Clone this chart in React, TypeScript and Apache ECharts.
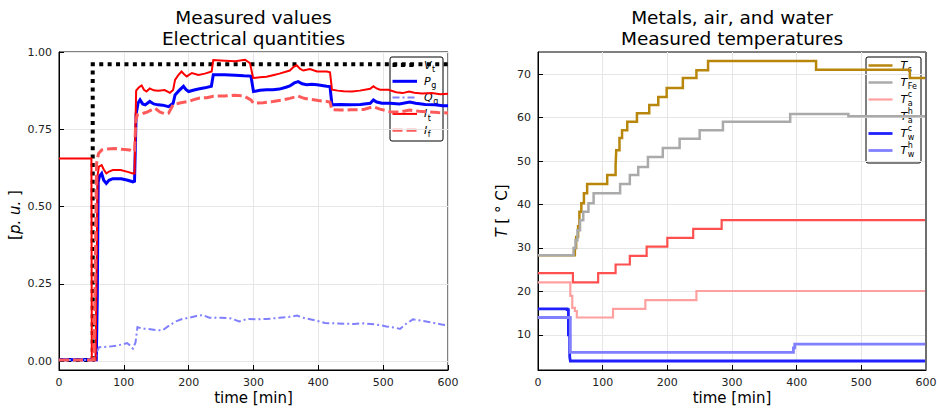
import { useEffect, useRef } from "react";
import * as echarts from "echarts";

const FONT = "'DejaVu Sans', 'Liberation Sans', sans-serif";

// ---------- Electrical quantities, [time in min, value in p.u.] ----------
const vtData: number[][] = [[0, 0.003], [52, 0.003], [52, 0.96], [600, 0.96]];

const pgData: number[][] = [
  [0, 0.004], [57.5, 0.004], [59, 0.2], [60.5, 0.58], [62.5, 0.598], [65.8, 0.607], [69, 0.585],
  [73, 0.575], [77, 0.585], [83, 0.59], [96, 0.59], [106, 0.585], [114, 0.58], [116.5, 0.582],
  [119, 0.8], [122, 0.835], [125, 0.845], [129, 0.832], [133, 0.829], [140, 0.84], [146, 0.832],
  [153, 0.829], [160, 0.828], [169, 0.823], [176, 0.834], [179, 0.861], [185, 0.875], [192, 0.889],
  [196, 0.878], [200, 0.872], [207, 0.876], [215, 0.88], [225, 0.884], [235, 0.889], [238, 0.926],
  [255, 0.926], [272, 0.925], [285, 0.923], [296, 0.922], [300, 0.872], [310, 0.876], [320, 0.878],
  [330, 0.878], [340, 0.88], [350, 0.886], [356, 0.89], [363, 0.9], [369, 0.904], [375, 0.897],
  [382, 0.894], [390, 0.896], [398, 0.894], [413, 0.889], [418, 0.888], [421, 0.829], [435, 0.83],
  [449, 0.829], [465, 0.83], [480, 0.834], [485, 0.845], [490, 0.838], [498, 0.834], [511, 0.834],
  [525, 0.832], [541, 0.838], [550, 0.834], [565, 0.83], [580, 0.829], [592, 0.826], [600, 0.826],
];

const qgData: number[][] = [
  [0, 0.003], [56, 0.003], [58.5, 0.03], [62, 0.045], [75, 0.046], [90, 0.05], [105, 0.058],
  [110, 0.05], [114, 0.04], [118, 0.06], [121, 0.11], [128, 0.105], [138, 0.104], [150, 0.1],
  [160, 0.1], [170, 0.115], [180, 0.128], [190, 0.136], [200, 0.14], [212, 0.146], [222, 0.149],
  [232, 0.14], [250, 0.14], [265, 0.138], [278, 0.128], [290, 0.136], [305, 0.135], [320, 0.136],
  [340, 0.14], [355, 0.143], [367, 0.147], [380, 0.138], [395, 0.132], [410, 0.123], [425, 0.122],
  [440, 0.121], [455, 0.12], [470, 0.122], [490, 0.118], [505, 0.112], [518, 0.108], [526, 0.104],
  [535, 0.12], [546, 0.135], [560, 0.13], [575, 0.125], [590, 0.118], [600, 0.116],
];

const itData: number[][] = [
  [0, 0.655], [50, 0.655], [50.6, 0.004], [56.5, 0.004], [59.5, 0.6], [61.5, 0.629], [65.8, 0.634],
  [69, 0.62], [73, 0.607], [78, 0.614], [83, 0.618], [95, 0.618], [106, 0.612], [114, 0.607],
  [116.5, 0.607], [119, 0.875], [123, 0.885], [127.5, 0.892], [131, 0.878], [135, 0.872], [140, 0.882],
  [146, 0.876], [153, 0.875], [163, 0.877], [171, 0.868], [176, 0.877], [179, 0.91], [184, 0.925],
  [189, 0.937], [193, 0.928], [197, 0.921], [205, 0.932], [215, 0.926], [225, 0.93], [235.5, 0.937],
  [238, 0.974], [256, 0.972], [272, 0.97], [287, 0.975], [294.5, 0.964], [299.5, 0.916], [310, 0.918],
  [320, 0.92], [330, 0.925], [340, 0.93], [356, 0.94], [362, 0.952], [366.6, 0.957], [372, 0.945],
  [377, 0.94], [387, 0.945], [398, 0.937], [413, 0.937], [418, 0.934], [421, 0.878], [430, 0.875],
  [439, 0.873], [452, 0.872], [464, 0.875], [480, 0.881], [485, 0.889], [490, 0.882], [495, 0.878],
  [508, 0.878], [520, 0.87], [530, 0.867], [540, 0.872], [548, 0.868], [560, 0.866], [575, 0.867],
  [588, 0.863], [600, 0.865],
];

const ifData: number[][] = [
  [0, 0.003], [54, 0.003], [56, 0.3], [58, 0.64], [61, 0.672], [66, 0.683], [75, 0.686], [86, 0.688],
  [98, 0.685], [109, 0.683], [114, 0.677], [116.5, 0.68], [118.5, 0.78], [121, 0.797], [127, 0.8],
  [135, 0.805], [142, 0.812], [148, 0.818], [156, 0.805], [164, 0.8], [169, 0.802], [176, 0.829],
  [186, 0.835], [200, 0.84], [208, 0.846], [217, 0.851], [228, 0.852], [238, 0.857], [255, 0.858],
  [270, 0.86], [285, 0.858], [296, 0.845], [300, 0.834], [315, 0.836], [330, 0.84], [345, 0.845],
  [356, 0.85], [369, 0.857], [378, 0.85], [387, 0.847], [400, 0.843], [413, 0.84], [418, 0.838],
  [421, 0.813], [435, 0.812], [450, 0.813], [470, 0.814], [485, 0.823], [495, 0.815], [511, 0.807],
  [525, 0.806], [541, 0.812], [555, 0.808], [570, 0.806], [585, 0.804], [600, 0.803],
];

// ---------- Temperatures, [time in min, °C], held until the next reading ----------
const tsData: number[][] = [
  [0, 28.3], [57, 30], [59, 32.5], [62, 35], [64, 38.3], [67, 40.3], [71, 42.6], [76, 44.7],
  [107, 46.8], [120, 49], [121, 52.5], [126, 55.3], [130, 57.1], [138, 59.0], [153, 61.0],
  [172, 62.9], [186, 64.7], [199, 66.8], [224, 69.1], [245, 70.9], [263, 73.0], [430, 71.0],
  [575, 69.1], [600, 69.1],
];
const tfeData: number[][] = [
  [0, 28.3], [55, 30], [58, 31.8], [61, 34.1], [65, 36.4], [70, 38.3], [78, 40.3], [86, 42.6],
  [127, 44.7], [142, 46.8], [155, 48.6], [170, 50.9], [193, 53.0], [219, 55.1], [250, 57.1],
  [286, 59.0], [390, 60.8], [480, 60.3], [600, 60.3],
];
const tacData: number[][] = [
  [0, 22.1], [48, 22.1], [50, 19], [53, 16.2], [57, 15.5], [60, 14.0], [116, 16.0], [166, 18.0],
  [245, 20.1], [600, 20.1],
];
const tahData: number[][] = [
  [0, 24.2], [54, 22.1], [93, 24.2], [120, 26.2], [142, 28.2], [168, 30.3], [200, 32.3],
  [240, 34.4], [284, 36.4], [600, 36.4],
];
const twcData: number[][] = [[0, 16.0], [45, 15.8], [47, 10], [49, 5], [50, 4.0], [600, 4.0]];
const twhData: number[][] = [[0, 14.0], [46, 14.0], [50, 6.0], [393, 6.0], [395, 7], [397, 7.9], [600, 7.9]];

// ---------- Axis ticks ----------
const timeTicks = [0, 100, 200, 300, 400, 500, 600];
const puTicks = [0, 0.25, 0.5, 0.75, 1.0];
const tempTicks = [10, 20, 30, 40, 50, 60, 70];

type LineDef = {
  main: string;
  sub: string;
  sup?: string;
  data: number[][];
  color: string;
  width: number;
  dash?: number[];
  step?: boolean;
};

const electrical: LineDef[] = [
  { main: "V", sub: "t", data: vtData, color: "#000000", width: 4, dash: [4, 4.4] },
  { main: "P", sub: "g", data: pgData, color: "#0000ff", width: 3 },
  { main: "Q", sub: "g", data: qgData, color: "#8080ff", width: 2, dash: [7, 3, 2, 3] },
  { main: "I", sub: "t", data: itData, color: "#ff0000", width: 2 },
  { main: "I", sub: "f", data: ifData, color: "#ff5a5a", width: 3, dash: [10, 4] },
];

const thermal: LineDef[] = [
  { main: "T", sub: "s", data: tsData, color: "#b8860b", width: 2.5, step: true },
  { main: "T", sub: "Fe", data: tfeData, color: "#aaaaaa", width: 2.5, step: true },
  { main: "T", sub: "a", sup: "c", data: tacData, color: "#ffa0a0", width: 2.2, step: true },
  { main: "T", sub: "a", sup: "h", data: tahData, color: "#ff5050", width: 2.2, step: true },
  { main: "T", sub: "w", sup: "c", data: twcData, color: "#2020ff", width: 2.8, step: true },
  { main: "T", sub: "w", sup: "h", data: twhData, color: "#8080ff", width: 2.8, step: true },
];

function textWidth(text: string, font: string): number {
  const ctx = document.createElement("canvas").getContext("2d");
  if (!ctx) return text.length * 6;
  ctx.font = font;
  return ctx.measureText(text).width;
}

function legend(
  defs: LineDef[],
  box: { x: number; y: number; w: number; h: number },
  firstRow: number,
  rowGap: number,
  lineX1: number,
  lineX2: number,
  labelX: number,
  size: number
) {
  const els: any[] = [
    {
      type: "rect",
      shape: { x: box.x, y: box.y, width: box.w, height: box.h, r: 2 },
      style: { fill: "#ffffff", stroke: "#000000", lineWidth: 1 },
    },
  ];
  const mainFont = `italic ${size}px ${FONT}`;
  const small = Math.round(size * 0.72);
  defs.forEach((d, i) => {
    const y = firstRow + i * rowGap;
    els.push({
      type: "line",
      shape: { x1: lineX1, y1: y, x2: lineX2, y2: y },
      style: { stroke: d.color, lineWidth: d.width, lineDash: d.dash || null, lineCap: "butt" },
    });
    els.push({
      type: "text",
      x: labelX,
      y,
      style: { text: d.main, font: mainFont, fill: "#000", align: "left", verticalAlign: "middle" },
    });
    const sx = labelX + textWidth(d.main, mainFont) + 0.5;
    els.push({
      type: "text",
      x: sx,
      y: y + size * 0.38,
      style: { text: d.sub, font: `${small}px ${FONT}`, fill: "#000", align: "left", verticalAlign: "middle" },
    });
    if (d.sup) {
      els.push({
        type: "text",
        x: sx,
        y: y - size * 0.42,
        style: { text: d.sup, font: `${small}px ${FONT}`, fill: "#000", align: "left", verticalAlign: "middle" },
      });
    }
  });
  return els;
}

function title(x: number, text: string) {
  return {
    type: "text",
    x,
    y: 7,
    style: {
      text,
      font: `18.5px ${FONT}`,
      lineHeight: 21,
      fill: "#000",
      align: "center",
      verticalAlign: "top",
    },
  };
}

function axisName(x: number, y: number, text: string, rotate: boolean) {
  return {
    type: "text",
    x,
    y,
    rotation: rotate ? Math.PI / 2 : 0,
    style: {
      text,
      font: `15px ${FONT}`,
      fill: "#000",
      align: "center",
      verticalAlign: "middle",
      rich: { i: { fontStyle: "italic", fontSize: 15, fontFamily: FONT } },
    },
  };
}

const axisLine = { show: true, onZero: false, lineStyle: { color: "#000", width: 1 } };
const tick = { show: true, inside: true, length: 5, lineStyle: { color: "#000", width: 1 } };
const label = { color: "#222", fontSize: 11, fontFamily: FONT, margin: 7 };
const split = { show: true, lineStyle: { color: "#e6e6e6", width: 1 } };

function xAxis(gridIndex: number) {
  return {
    type: "value",
    gridIndex,
    min: timeTicks[0],
    max: timeTicks[timeTicks.length - 1],
    interval: timeTicks[1] - timeTicks[0],
    axisLine,
    axisTick: tick,
    axisLabel: label,
    splitLine: split,
  };
}

function yAxis(gridIndex: number, min: number, max: number, ticks: number[], fmt: (v: number) => string) {
  return {
    type: "value",
    gridIndex,
    min,
    max,
    axisLine,
    axisTick: { ...tick, customValues: ticks },
    axisLabel: { ...label, customValues: ticks, formatter: fmt },
    splitLine: split,
  };
}

function series(defs: LineDef[], axis: number) {
  return defs.map((d, i) => ({
    type: "line",
    name: d.main + d.sub + (d.sup || ""),
    xAxisIndex: axis,
    yAxisIndex: axis,
    data: d.data,
    step: d.step ? "end" : false,
    showSymbol: false,
    symbol: "none",
    silent: true,
    z: 2 + i * 0.01,
    lineStyle: { color: d.color, width: d.width, type: d.dash || "solid", cap: "butt", join: "miter" },
  }));
}

function buildOption() {
  return {
    animation: false,
    backgroundColor: "#ffffff",
    grid: [
      { left: 59, top: 52, width: 389, height: 318, show: true, borderColor: "#000", borderWidth: 1, backgroundColor: "#fff", outerBoundsMode: "none" },
      { left: 538, top: 52, width: 388, height: 318, show: true, borderColor: "#000", borderWidth: 1, backgroundColor: "#fff", outerBoundsMode: "none" },
    ],
    xAxis: [xAxis(0), xAxis(1)],
    yAxis: [
      yAxis(0, -0.029, 1.0, puTicks, (v: number) => v.toFixed(2)),
      yAxis(1, 1.93, 75.07, tempTicks, (v: number) => String(v)),
    ],
    series: [...series(electrical, 0), ...series(thermal, 1)],
    graphic: [
      title(253.5, "Measured values\nElectrical quantities"),
      title(732, "Metals, air, and water\nMeasured temperatures"),
      axisName(253.5, 398, "time [min]", false),
      axisName(732, 398, "time [min]", false),
      axisName(15, 215, "[{i|p. u.} ]", true),
      axisName(502, 211, "{i|T} [ ° C]", true),
      // right edge of the temperature frame
      {
        type: "line",
        shape: { x1: 926, y1: 52, x2: 926, y2: 370 },
        style: { stroke: "#6e6e6e", lineWidth: 2 },
        z: 10,
      },
      ...legend(electrical, { x: 390, y: 57, w: 53, h: 84 }, 65, 16.3, 392.5, 417, 424, 11),
      ...legend(thermal, { x: 866, y: 57, w: 55, h: 106 }, 65.5, 17, 868.5, 892.5, 900.5, 11),
    ],
  };
}

export default function App() {
  const ref = useRef<HTMLDivElement>(null);
  useEffect(() => {
    if (!ref.current) return;
    const chart = echarts.init(ref.current, null, { renderer: "svg" });
    chart.setOption(buildOption() as any);
    return () => chart.dispose();
  }, []);
  return (
    <div
      ref={ref}
      style={{ position: "fixed", left: 0, top: 0, width: 937, height: 410, background: "#fff" }}
    />
  );
}
